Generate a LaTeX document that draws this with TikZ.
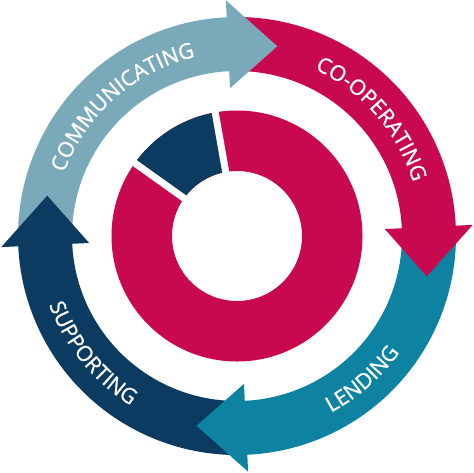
\documentclass[tikz,border=0pt]{standalone}
\usepackage{fontspec}
\usepackage{tikz}
\usetikzlibrary{decorations.text}

\newfontfamily\ringfamily[FakeBold=1]{Open Sans}
\definecolor{commblue}{HTML}{7AAAB9}
\definecolor{coopred}{HTML}{C8084F}
\definecolor{lendteal}{HTML}{0E83A1}
\definecolor{suppnavy}{HTML}{0B3B60}

\begin{document}
\begin{tikzpicture}[
    x=0.75pt, y=0.75pt,
    ringtext/.style={decorate, decoration={text along path, text color=white,
        text align=center, text={|\ringfamily\fontsize{16}{16}\selectfont|#1}}},
    gap/.style={draw=white, line width=5.25pt},
]
    \useasboundingbox (-237,-236) rectangle (237,236);

    % bands of the outer ring
    \fill[commblue] (182.4:219) arc[start angle=182.4, end angle=91.7, radius=219]
        -- (91.7:165) arc[start angle=91.7, end angle=182.4, radius=165] -- cycle;
    \fill[coopred] (92.4:219) arc[start angle=92.4, end angle=1.7, radius=219]
        -- (1.7:165) arc[start angle=1.7, end angle=92.4, radius=165] -- cycle;
    \fill[lendteal] (2.4:219) arc[start angle=2.4, end angle=-88.3, radius=219]
        -- (-88.3:165) arc[start angle=-88.3, end angle=2.4, radius=165] -- cycle;
    \fill[suppnavy] (-87.6:219) arc[start angle=-87.6, end angle=-178.3, radius=219]
        -- (-178.3:165) arc[start angle=-178.3, end angle=-87.6, radius=165] -- cycle;

    % arrow heads
    \fill[commblue] (92.7:236) -- (78:194) -- (92.7:148) -- cycle;
    \fill[coopred] (2.7:236) -- (-12:194) -- (2.7:148) -- cycle;
    \fill[lendteal] (-87.3:236) -- (-102:194) -- (-87.3:148) -- cycle;
    \fill[suppnavy] (-177.3:236) -- (-192:194) -- (-177.3:148) -- cycle;

    % labels
    \path[ringtext=COMMUNICATING] (175:184) arc[start angle=175, end angle=88, radius=184];
    \path[ringtext=CO-OPERATING] (84:184) arc[start angle=84, end angle=-2, radius=184];
    \path[ringtext=LENDING] (-90:200) arc[start angle=-90, end angle=-7.6, radius=200];
    \path[ringtext=SUPPORTING] (-185:200) arc[start angle=-185, end angle=-97, radius=200];

    % donut
    \fill[coopred, even odd rule] (0,0) circle[radius=125.5] (0,0) circle[radius=65];
    \fill[suppnavy] (100:125.5) arc[start angle=100, end angle=144.5, radius=125.5]
        -- (144.5:65) arc[start angle=144.5, end angle=100, radius=65] -- cycle;
    \draw[gap] (100:60) -- (100:131);
    \draw[gap] (144.5:60) -- (144.5:131);
\end{tikzpicture}
\end{document}
